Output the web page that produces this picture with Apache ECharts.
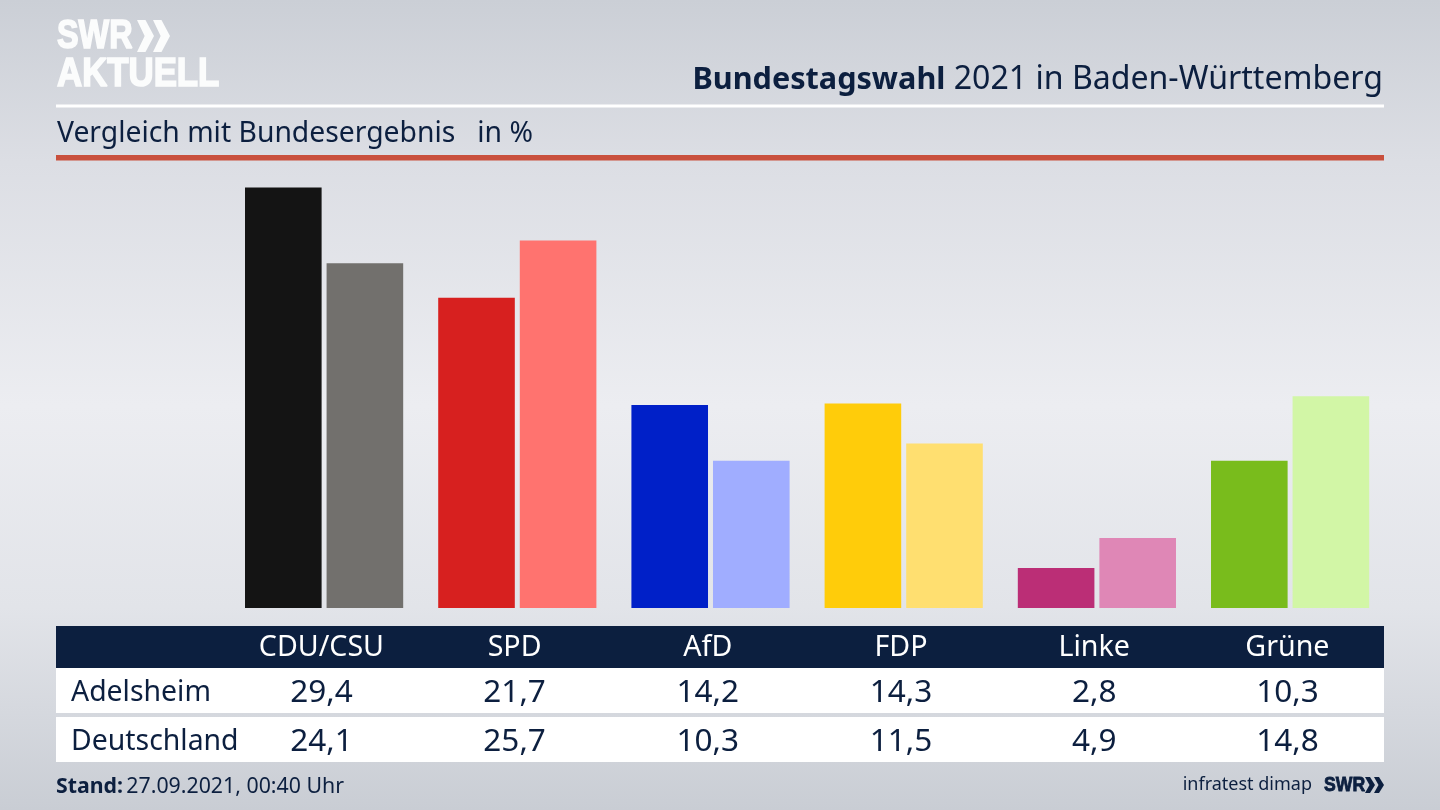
<!DOCTYPE html>
<html><head><meta charset="utf-8">
<style>html,body{margin:0;padding:0;background:#d8dbe1}#c{width:1440px;height:810px}</style>
<script src="https://cdn.jsdelivr.net/npm/echarts@6/dist/echarts.min.js"></script>
</head><body><div id="c"></div>
<script>
const categories = ['CDU/CSU','SPD','AfD','FDP','Linke','Grüne'];
const adelsheimLabels = ['29,4','21,7','14,2','14,3','2,8','10,3'];
const deutschlandLabels = ['24,1','25,7','10,3','11,5','4,9','14,8'];
const adelsheim = [29.4,21.7,14.2,14.3,2.8,10.3];
const deutschland = [24.1,25.7,10.3,11.5,4.9,14.8];
const coloursDark = ['#141414','#d7201f','#0020c8','#ffcc0a','#bb2e76','#79bc1c'];
const coloursLight = ['#72706d','#ff736f','#a0adff','#ffdf70','#df87b6','#d2f6a6'];
const rowNames = ['Adelsheim','Deutschland'];
const NAVY = '#0c1f3f';
const FONT = '"Noto Sans"';
const LOGO = '"Liberation Sans"';
const textLeft = 224.8, slot = 193.2;
const cx = i => textLeft + slot * (i + .5);
function T(x,y,text,size,fill,align,weight){
  return {type:'text',x:x,y:y,z:20,style:{text:text,fontFamily:FONT,fontSize:size,fill:fill,align:align||'left',verticalAlign:'middle',fontWeight:weight||'normal'}};
}
function L(x,y,text,size,fill,sx){
  return {type:'text',x:x,y:y,z:20,scaleX:sx||1,style:{text:text,fontFamily:LOGO,fontSize:size,fill:fill,fontWeight:'bold',stroke:fill,lineWidth:size/24,verticalAlign:'middle'}};
}
function R(x,y,w,h,fill){return {type:'rect',z:10,shape:{x:x,y:y,width:w,height:h},style:{fill:fill}};}
function chev(x,y,w,h,fill){return {type:'polygon',z:20,shape:{points:[[x,y],[x+w*.5,y],[x+w,y+h/2],[x+w*.5,y+h],[x,y+h],[x+w*.45,y+h/2]]},style:{fill:fill}};}
const gfx = [
  {type:'rect',z:-2,shape:{x:0,y:0,width:1440,height:810},style:{fill:new echarts.graphic.LinearGradient(0,0,0,1,[
    {offset:0,color:'#cbcfd6'},{offset:.2,color:'#dcdee4'},{offset:.5,color:'#ecedf1'},{offset:.75,color:'#e2e4e9'},{offset:1,color:'#c9cdd4'}])}},
  L(57,37,'SWR',40,'#fbfcfc',.81),
  chev(137,20,17,32,'#fbfcfc'), chev(153,20,17,32,'#fbfcfc'),
  L(57,75,'AKTUELL',40,'#fbfcfc',.87),
  R(56,104.5,1328,3,'#ffffff'),
  R(56,155,1328,5.5,'#c9503d'),
  {type:'text',z:20,x:1383,y:80,style:{rich:{b:{fontFamily:FONT,fontSize:30.6,fontWeight:'bold',fill:NAVY},s:{fontFamily:FONT,fontSize:32,fill:NAVY},n:{fontFamily:FONT,fontSize:32.1,fill:NAVY}},
     text:'{b|Bundestagswahl}{s| }{n|2021 in Baden-Württemberg}',align:'right',verticalAlign:'middle'}},
  T(57,134,'Vergleich mit Bundesergebnis   in %',28.3,NAVY),
  R(56,626,1328,42,NAVY),
  R(56,668,1328,45,'#ffffff'),
  R(56,717,1328,45,'#ffffff'),
  T(71,693,rowNames[0],28.4,NAVY),
  T(71,742,rowNames[1],28.4,NAVY),
  {type:'text',z:20,x:56,y:787,style:{rich:{b:{fontFamily:FONT,fontSize:21.3,fontWeight:'bold',fill:NAVY},n:{fontFamily:FONT,fontSize:21.3,fill:NAVY}},
     text:'{b|Stand:} {n|27.09.2021, 00:40 Uhr}',verticalAlign:'middle'}},
  T(1312,785,'infratest dimap',18,NAVY,'right'),
  L(1324,785,'SWR',21,NAVY,.84),
  chev(1365,777,10,16,NAVY), chev(1374,777,10,16,NAVY)
];
categories.forEach((c,i)=>{
  gfx.push(T(cx(i),647.5,c,28.6,'#ffffff','center'));
  gfx.push(T(cx(i),693,adelsheimLabels[i],31.5,NAVY,'center'));
  gfx.push(T(cx(i),742,deutschlandLabels[i],31.5,NAVY,'center'));
});
const chart = echarts.init(document.getElementById('c'),null,{renderer:'canvas'});
chart.setOption({
  animation:false,
  grid:{left:227.5,right:53.3,top:179,bottom:202},
  xAxis:{type:'category',data:categories,axisLine:{show:false},axisTick:{show:false},axisLabel:{show:false}},
  yAxis:{type:'value',min:0,max:30,show:false,splitLine:{show:false}},
  series:[
    {type:'bar',name:rowNames[0],data:adelsheim.map((v,i)=>({value:v,itemStyle:{color:coloursDark[i]}})),barWidth:76.6,barGap:'6.5%',z:5},
    {type:'bar',name:rowNames[1],data:deutschland.map((v,i)=>({value:v,itemStyle:{color:coloursLight[i]}})),barWidth:76.6,z:5}
  ],
  graphic:gfx
});
</script></body></html>
